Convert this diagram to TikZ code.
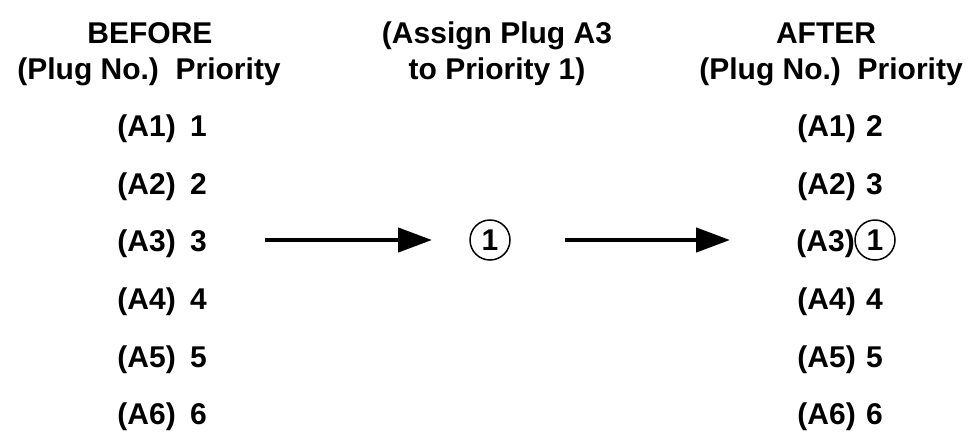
\documentclass[tikz,border=0pt]{standalone}
\usepackage{fontspec}
\setmainfont{Liberation Sans}
\usetikzlibrary{arrows.meta}
\begin{document}
\begin{tikzpicture}[x=1pt,y=-1pt,
  t/.style={font=\fontsize{30}{36}\selectfont\bfseries,inner sep=0pt},
  hd/.style={t,anchor=base},
  plug/.style={t,anchor=base east},
  pr/.style={t,anchor=base west},
  circ/.style={t,draw,circle,line width=1.5pt,minimum size=40pt},
  arr/.style={line width=4.5pt,-{Triangle[length=34pt,width=24pt]}}]
\useasboundingbox (0,0) rectangle (976,434);
\node[hd] (hb) at (150,43) {BEFORE};
\node[hd] (hb2) at (149,79) {(Plug No.)\ \ Priority};
\node[hd] (hm) at (497,43) {(Assign Plug A3};
\node[hd] (hm2) at (497,79) {to Priority 1)};
\node[hd] (ha) at (826,43) {AFTER};
\node[hd] (ha2) at (831,79) {(Plug No.)\ \ Priority};
\foreach \i/\y in {1/136,2/194,3/251,4/309,5/367,6/424}{
  \node[plug] (L\i) at (176,\y) {(A\i)};
  \node[pr] (LP\i) at (190,\y) {\i};
}
\foreach \i/\y/\p in {1/136/2,2/194/3,4/309/4,5/367/5,6/424/6}{
  \node[plug] (R\i) at (856,\y) {(A\i)};
  \node[pr] (RP\i) at (866,\y) {\p};
}
\node[plug] (R3) at (855,251) {(A3)};
\node[circ] (RP3) at (875,240) {1};
\node[circ] (M) at (490,240) {1};
\coordinate (s1) at (265,240);
\coordinate (e1) at (432,240);
\coordinate (s2) at (565,240);
\coordinate (e2) at (730,240);
\draw[arr] (s1) -- (e1);
\draw[arr] (s2) -- (e2);
\end{tikzpicture}
\end{document}
